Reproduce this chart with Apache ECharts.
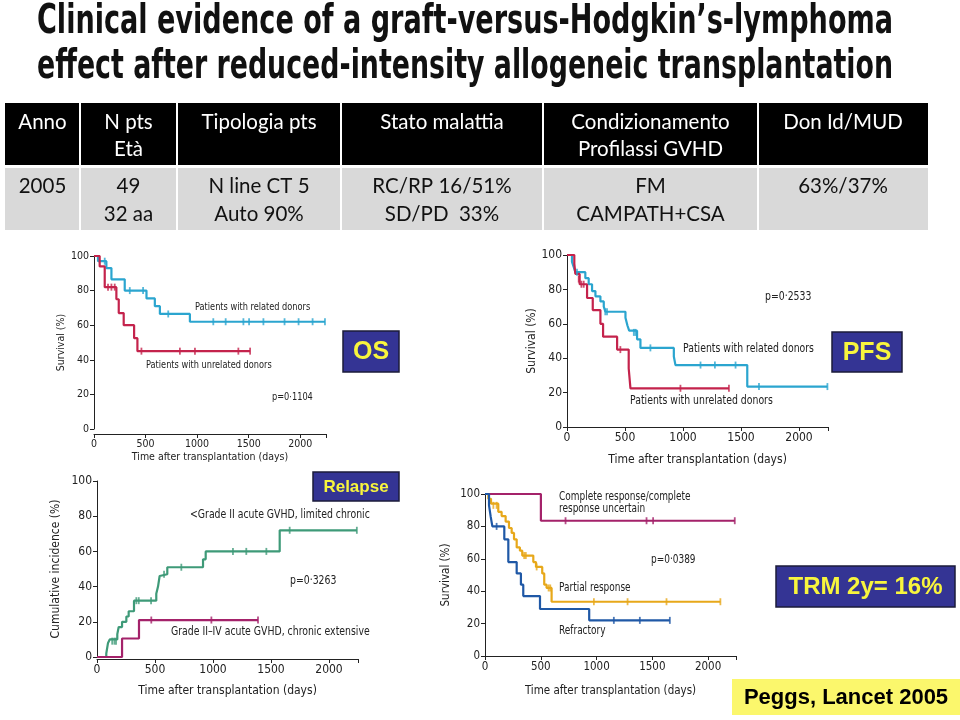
<!DOCTYPE html>
<html><head><meta charset="utf-8">
<script src="https://cdn.jsdelivr.net/npm/echarts@6/dist/echarts.min.js"></script>
<style>html,body{margin:0;padding:0;background:#fff}#c{width:960px;height:720px}</style>
</head><body><div id="c"></div>
<script>
// ---------- text content ----------
const titleLines = ['Clinical evidence of a graft-versus-Hodgkin\u2019s-lymphoma', 'effect after reduced-intensity allogeneic transplantation'];
const tableHeaders = [['Anno'], ['N pts', 'Et\u00e0'], ['Tipologia pts'], ['Stato malattia'], ['Condizionamento', 'Profilassi GVHD'], ['Don Id/MUD']];
const tableRow = [['2005'], ['49', '32 aa'], ['N line CT 5', 'Auto 90%'], ['RC/RP 16/51%', 'SD/PD  33%'], ['FM', 'CAMPATH+CSA'], ['63%/37%']];
const xAxisName = 'Time after transplantation (days)';

// ---------- OS (overall survival) ----------
const osRelated = [[0,100],[39,97],[120,93],[169,86.5],[298,80],[509,75.5],[590,71],[639,66.5],[930,62],[2240,62]];
const osRelatedCens = [[104,97],[347,80],[476,80],[720,66.5],[1157,62],[1277,62],[1449,62],[1504,62],[1643,62],[1848,62],[1984,62],[2120,62],[2240,62]];
const osUnrelated = [[0,100],[55,94],[104,82],[217,75],[240,67],[288,60],[389,52.5],[421,45],[1514,45]];
const osUnrelatedCens = [[136,82],[169,82],[201,82],[460,45],[833,45],[979,45],[1400,45],[1514,45]];

// ---------- PFS ----------
const pfsRelated = [[0,100],[43,96],[58,93],[72,90],[158,86.5],[187,83],[216,79],[245,76],[288,73],[317,70],[331,67],[504,63.5],[521,59],[536,56],[604,51],[633,46],[921,41],[935,36],[1554,23.5],[2245,23.5]];
const pfsRelatedCens = [[86,90],[330,67],[345,67],[576,55],[590,55],[719,46],[1151,36],[1275,36],[1453,36],[1655,23.5],[2245,23.5]];
const pfsUnrelated = [[0,100],[63,95],[72,89],[109,83],[173,75],[222,68],[288,60],[311,52.5],[432,45],[532,34],[547,22.5],[1396,22.5]];
const pfsUnrelatedCens = [[101,86],[124,83],[144,83],[460,45],[978,22.5],[1396,22.5]];

// ---------- Relapse (cumulative incidence) ----------
const relapseLowGvhd = [[0,0],[80,2],[95,8],[110,10],[175,13],[187,17],[216,20],[253,23],[273,26],[319,32],[511,36],[526,40],[540,46],[555,47],[606,51],[914,55.5],[937,60],[1575,72],[2240,72]];
const relapseLowGvhdCens = [[131,9],[150,9],[164,9],[339,32],[360,32],[466,32],[578,47],[727,51],[1172,60],[1287,60],[1460,60],[1661,72],[2240,72]];
const relapseHighGvhd = [[0,0],[216,10.5],[362,21],[1388,21]];
const relapseHighGvhdCens = [[468,21],[986,21],[1388,21]];

// ---------- Survival by response ----------
const respComplete = [[0,100],[501,83.5],[2239,83.5]];
const respCompleteCens = [[722,83.5],[1448,83.5],[1507,83.5],[2239,83.5]];
const respPartial = [[0,100],[30,97],[54,94],[119,89],[149,86.4],[185,83],[215,79],[239,76],[260,72],[284,67],[313,65],[334,62],[433,58],[457,55],[513,51],[531,44],[552,42],[597,33.5],[2110,33.5]];
const respPartialCens = [[75,93],[104,93],[351,62],[366,62],[463,55],[570,42],[585,42],[976,33.5],[1278,33.5],[1627,33.5],[2110,33.5]];
const respRefractory = [[0,100],[36,93],[51,86],[66,80],[173,72],[209,58],[284,51],[322,44],[343,37],[493,29],[934,22],[1657,22]];
const respRefractoryCens = [[104,80],[1155,22],[1388,22],[1657,22]];

// ---------- build ----------
const NARROW = "'Liberation Sans Narrow','DejaVu Sans Condensed','Roboto Condensed',Roboto,sans-serif";
const CAL = "Lato,'Open Sans',sans-serif";
const ARIAL = "'Liberation Sans',Arial,sans-serif";

const C_BLUE = '#2ba5cf', C_RED = '#c4234c', C_GREEN = '#3e9a78', C_MAG = '#a4226a', C_YEL = '#e7a81a', C_NAVY = '#1f58a6';

function measure(text, font) {
  const ctx = document.createElement('canvas').getContext('2d');
  ctx.font = font; return ctx.measureText(text).width;
}

const grids = [
  {left:94, top:256, width:232, height:173},
  {left:567, top:255, width:261, height:172},
  {left:97, top:481, width:261, height:176},
  {left:485, top:494, width:251, height:162}
];
const axFs = [10.5, 12, 12, 11.5];
const xOff = [5, 0, 2, 0];
const xGap = [18, 27, 26, 29];
const yGap = [26, 28, 35, 33];
const yNames = ['Survival (%)', 'Survival (%)', 'Cumulative incidence (%)', 'Survival (%)'];

const xAxes = grids.map((g, i) => ({
  gridIndex:i, type:'value', min:0, max:2250, interval:500, offset:xOff[i],
  axisLine:{onZero:false, lineStyle:{color:'#222', width:1}},
  axisTick:{length:4, lineStyle:{color:'#222'}},
  axisLabel:{fontSize:axFs[i], color:'#222', fontFamily:NARROW, margin:5, formatter:v => (v % 500 === 0 ? String(v) : '')},
  splitLine:{show:false},
  name:xAxisName, nameLocation:'middle', nameGap:xGap[i],
  nameTextStyle:{fontSize:axFs[i], color:'#222', fontFamily:NARROW}
}));
const yAxes = grids.map((g, i) => ({
  gridIndex:i, type:'value', min:0, max:100, interval:20,
  axisLine:{show:true, lineStyle:{color:'#222', width:1}},
  axisTick:{show:true, length:4, lineStyle:{color:'#222'}},
  axisLabel:{fontSize:axFs[i], color:'#222', fontFamily:NARROW, margin:5},
  splitLine:{show:false},
  name:yNames[i], nameLocation:'middle', nameGap:yGap[i], nameRotate:90,
  nameTextStyle:{fontSize:axFs[i], color:'#222', fontFamily:NARROW}
}));

function km(gi, data, color) {
  return {type:'line', xAxisIndex:gi, yAxisIndex:gi, data, step:'end', symbol:'none', silent:true,
    lineStyle:{color, width:2.2}, z:3};
}
function cens(gi, data, color) {
  return {type:'scatter', xAxisIndex:gi, yAxisIndex:gi, data, symbol:'rect', symbolSize:[1.8, 7], silent:true,
    itemStyle:{color}, z:4};
}

const series = [
  km(0, osRelated, C_BLUE), cens(0, osRelatedCens, C_BLUE),
  km(0, osUnrelated, C_RED), cens(0, osUnrelatedCens, C_RED),
  km(1, pfsRelated, C_BLUE), cens(1, pfsRelatedCens, C_BLUE),
  km(1, pfsUnrelated, C_RED), cens(1, pfsUnrelatedCens, C_RED),
  km(2, relapseLowGvhd, C_GREEN), cens(2, relapseLowGvhdCens, C_GREEN),
  km(2, relapseHighGvhd, C_MAG), cens(2, relapseHighGvhdCens, C_MAG),
  km(3, respComplete, C_MAG), cens(3, respCompleteCens, C_MAG),
  km(3, respPartial, C_YEL), cens(3, respPartialCens, C_YEL),
  km(3, respRefractory, C_NAVY), cens(3, respRefractoryCens, C_NAVY)
];

// graphics
const graphic = [];
// title
const TFONT_SIZE = 40, TFONT = "bold " + TFONT_SIZE + "px " + NARROW;
const titleY = [23, 68];
titleLines.forEach((t, i) => {
  const w = measure(t, TFONT);
  graphic.push({type:'text', x:37, y:titleY[i], scaleX: 856 / w,
    style:{text:t, x:0, y:0, align:'left', verticalAlign:'middle', fontSize:TFONT_SIZE, fontWeight:'bold', fontFamily:NARROW, fill:'#111'}});
});
// table
const colEdges = [5, 80, 177, 341, 543, 758, 928];
for (let c = 0; c < 6; c++) {
  const x0 = colEdges[c] + (c ? 1 : 0), x1 = colEdges[c + 1] - (c < 5 ? 1 : 0);
  graphic.push({type:'rect', shape:{x:x0, y:103, width:x1 - x0, height:62}, style:{fill:'#000'}});
  graphic.push({type:'rect', shape:{x:x0, y:168, width:x1 - x0, height:62}, style:{fill:'#d9d9d9'}});
  const cx = (colEdges[c] + colEdges[c + 1]) / 2;
  tableHeaders[c].forEach((t, k) => graphic.push({type:'text', style:{text:t, x:cx, y:122 + k * 27, align:'center', verticalAlign:'middle', fontSize:20.5, fontFamily:CAL, fill:'#fff'}}));
  tableRow[c].forEach((t, k) => graphic.push({type:'text', style:{text:t, x:cx, y:186 + k * 28, align:'center', verticalAlign:'middle', fontSize:20.5, fontFamily:CAL, fill:'#111'}}));
}
// annotations
function note(t, x, y, fs) {
  graphic.push({type:'text', x, y, scaleX:0.83,
    style:{text:t, x:0, y:0, align:'left', verticalAlign:'middle', fontSize:fs || 11.5, fontFamily:NARROW, fill:'#222'}});
}
note('Patients with related donors', 195, 307, 11);
note('Patients with unrelated donors', 146, 365, 11);
note('p=0\u00b71104', 272, 397, 11);
note('p=0\u00b72533', 765, 297, 12.5);
note('Patients with related donors', 683, 349, 12.5);
note('Patients with unrelated donors', 630, 401, 12.5);
note('<Grade II acute GVHD, limited chronic', 190, 515, 12.5);
note('p=0\u00b73263', 290, 581, 12.5);
note('Grade II\u2013IV acute GVHD, chronic extensive', 171, 632, 12.5);
note('Complete response/complete', 559, 497, 12);
note('response uncertain', 559, 509, 12);
note('p=0\u00b70389', 651, 560, 12);
note('Partial response', 559, 588, 12);
note('Refractory', 559, 631, 12);
// label boxes
function box(t, x, y, w, h, fs, fill, color) {
  graphic.push({type:'rect', shape:{x, y, width:w, height:h}, style:{fill, stroke:'#1b1b3a', lineWidth:1.5}, z:10});
  graphic.push({type:'text', z:11, style:{text:t, x:x + w / 2, y:y + h / 2 + 1, align:'center', verticalAlign:'middle', fontSize:fs, fontWeight:'bold', fontFamily:ARIAL, fill:color}});
}
const BOXBLUE = '#343494', BOXYEL = '#f8f53d';
box('OS', 343, 331, 56, 41, 25, BOXBLUE, BOXYEL);
box('PFS', 832, 332, 70, 40, 25, BOXBLUE, BOXYEL);
box('Relapse', 313, 472, 86, 29, 17, BOXBLUE, BOXYEL);
box('TRM 2y= 16%', 776, 566, 179, 41, 24, BOXBLUE, BOXYEL);
graphic.push({type:'rect', shape:{x:732, y:679, width:228, height:36}, style:{fill:'#fbf76c'}, z:10});
graphic.push({type:'text', z:11, style:{text:'Peggs, Lancet 2005', x:846, y:698, align:'center', verticalAlign:'middle', fontSize:22, fontWeight:'bold', fontFamily:ARIAL, fill:'#000'}});

const chart = echarts.init(document.getElementById('c'), null, {renderer:'canvas'});
chart.setOption({
  animation:false, backgroundColor:'#fff',
  grid:grids, xAxis:xAxes, yAxis:yAxes, series, graphic
});
</script></body></html>
